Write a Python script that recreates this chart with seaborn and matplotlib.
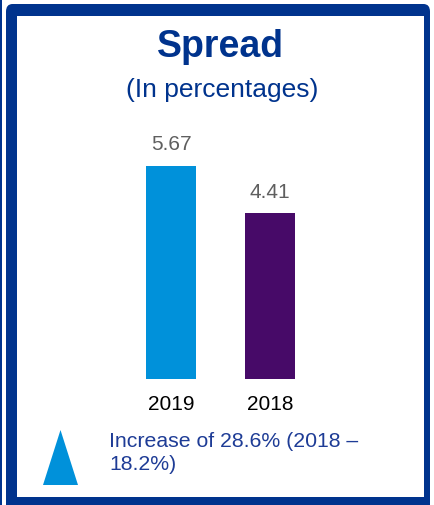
import matplotlib
matplotlib.use("Agg")
import matplotlib.pyplot as plt
import seaborn as sns
import pandas as pd
from matplotlib.patches import FancyBboxPatch, Polygon, Rectangle

years = ["2019", "2018"]
spread = [5.67, 4.41]
bar_colors = ["#0091DA", "#470A68"]
title = "Spread"
subtitle = "(In percentages)"
note = "Increase of 28.6% (2018 –\n18.2%)"

BLUE = "#00338D"
W, H = 434, 506

sns.set_theme(style="white")
plt.rcParams["font.family"] = ["Liberation Sans", "DejaVu Sans"]

fig = plt.figure(figsize=(W / 100, H / 100), dpi=100)
fig.patch.set_facecolor("white")


def px(x0, y0, x1, y1):
    # pixel box (top-left origin) -> figure fraction rect
    return [x0 / W, 1 - y1 / H, (x1 - x0) / W, (y1 - y0) / H]


# frame (kept below the axes)
fig.patches.append(Rectangle((0, 0), 2 / W, 1, transform=fig.transFigure,
                             color=BLUE, lw=0, zorder=-3))
fig.patches.append(FancyBboxPatch((6 / W, -10 / H), 424 / W, (H - 5 + 10) / H,
                                  boxstyle="round,pad=0,rounding_size=0.015",
                                  transform=fig.transFigure, fc=BLUE, ec="none",
                                  zorder=-2))
fig.patches.append(Rectangle((17 / W, 1 - 498 / H), 407 / W, 481 / H,
                             transform=fig.transFigure, fc="white", ec="none",
                             zorder=-1))

fig.text(220 / W, 1 - 47 / H, title, ha="center", va="center",
         fontsize=27, fontweight="bold", color=BLUE)
fig.text(222 / W, 1 - 90 / H, subtitle, ha="center", va="center",
         fontsize=19, color=BLUE)

# bars
df = pd.DataFrame({"year": years, "spread": spread})
ax = fig.add_axes(px(121.5, 380 - 6.5 * 37.6, 319.5, 380))
ax.set_zorder(2)
ax.patch.set_alpha(0)
sns.barplot(data=df, x="year", y="spread", hue="year", palette=bar_colors,
            width=0.505, legend=False, ax=ax, saturation=1, linewidth=0)
ax.set_xlim(-0.5, 1.5)
ax.set_ylim(0, 6.5)
for c in ax.containers:
    ax.bar_label(c, fmt="%.2f", padding=9, fontsize=15, color="#5f5f5f")
sns.despine(ax=ax, left=True, bottom=True)
ax.set_yticks([])
ax.set_xlabel("")
ax.set_ylabel("")
ax.tick_params(axis="x", length=0, pad=11, labelsize=15, labelcolor="black")

# increase marker and note
fig.patches.append(Polygon([(43 / W, 1 - 486 / H), (78 / W, 1 - 486 / H),
                            (60.5 / W, 1 - 431 / H)], closed=True,
                           transform=fig.transFigure, fc="#0091DA", ec="none"))
fig.text(109 / W, 1 - 453 / H, note, ha="left", va="center",
         fontsize=15.3, color="#1E3C96", linespacing=1.33)

fig.savefig("out.png", dpi=100)
